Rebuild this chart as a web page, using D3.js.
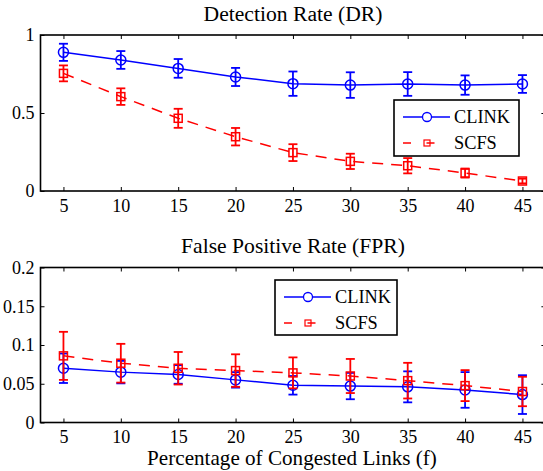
<!doctype html>
<html>
  <head>
    <meta charset="UTF-8"/>
    <title>DR / FPR</title>
    <script src="https://d3js.org/d3.v7.min.js"></script>
    <style>
      body {
          margin: 0;
          padding: 0;
          background: #fff;
      }
    </style>
  </head>
  <body>
    <svg id="chart" width="543" height="471"></svg>
    <script>
      // data
      const links = [5, 10, 15, 20, 25, 30, 35, 40, 45];
      const xTicks = [5, 10, 15, 20, 25, 30, 35, 40, 45];

      const drClink = [0.889, 0.84, 0.786, 0.731, 0.688, 0.679, 0.686, 0.679, 0.686];
      const drClinkErr = [0.055, 0.057, 0.06, 0.058, 0.078, 0.082, 0.076, 0.062, 0.057];
      const drScfs = [0.754, 0.605, 0.466, 0.348, 0.246, 0.19, 0.162, 0.115, 0.064];
      const drScfsErr = [0.051, 0.053, 0.061, 0.056, 0.054, 0.049, 0.049, 0.029, 0.015];
      const drTicks = [0, 0.5, 1];

      const fprClink = [0.070, 0.065, 0.062, 0.055, 0.048, 0.047, 0.046, 0.042, 0.036];
      const fprClinkErr = [0.019, 0.0145, 0.012, 0.01, 0.012, 0.017, 0.02, 0.023, 0.025];
      const fprScfs = [0.086, 0.0765, 0.070, 0.067, 0.064, 0.06, 0.054, 0.0476, 0.040];
      const fprScfsErr = [0.031, 0.025, 0.021, 0.021, 0.02, 0.022, 0.023, 0.02, 0.019];
      const fprTicks = [0, 0.05, 0.1, 0.15, 0.2];

      const seriesNames = ["CLINK", "SCFS"];

      const FONT = "Liberation Serif";
      const svg = d3.select("#chart")
        .attr("font-family", FONT).attr("font-size", 18);
      const x = d3.scaleLinear().domain([3, 47]).range([40.5, 545.4]);

      const BLUE = "#0000ff", RED = "#ff0000";

      // size a text so it takes the width it has in the picture
      function fitSize(str, w) {
        const t = svg.append("text").attr("font-family", FONT).attr("font-size", 18).text(str);
        const cur = t.node().getComputedTextLength();
        t.remove();
        return cur > 0 ? +(18 * w / cur).toFixed(2) : 18;
      }
      const BASE = Math.min(fitSize("0.15", 31.5), 21);

      function label(sel, size) {
        return sel.attr("font-family", FONT).attr("font-size", size || BASE).attr("fill", "#000");
      }

      function panel(opt) {
        const y = d3.scaleLinear().domain(opt.domain).range(opt.range);
        const g = svg.append("g");
        const top = opt.range[1], bot = opt.range[0];

        // ticks inward on all four sides
        g.append("g").attr("transform", `translate(0,${bot})`)
          .call(d3.axisBottom(x).tickValues(xTicks).tickSizeInner(-4).tickSizeOuter(0).tickPadding(8));
        g.append("g").attr("transform", `translate(0,${top})`)
          .call(d3.axisTop(x).tickValues(xTicks).tickSizeInner(-4).tickSizeOuter(0).tickFormat(""));
        g.append("g").attr("transform", `translate(${x.range()[0]},0)`)
          .call(d3.axisLeft(y).tickValues(opt.ticks).tickSizeInner(-4).tickSizeOuter(0).tickPadding(6).tickFormat(d => d));
        g.append("g").attr("transform", `translate(${x.range()[1]},0)`)
          .call(d3.axisRight(y).tickValues(opt.ticks).tickSizeInner(-4).tickSizeOuter(0).tickFormat(""));
        g.selectAll(".domain").remove();
        g.selectAll(".tick line").attr("stroke", "#000").attr("stroke-width", 1);
        g.selectAll("g").attr("font-family", FONT).attr("font-size", BASE);
        g.selectAll(".tick text").call(label);

        g.append("rect")
          .attr("x", x.range()[0]).attr("y", top)
          .attr("width", x.range()[1] - x.range()[0]).attr("height", bot - top)
          .attr("fill", "none").attr("stroke", "#000").attr("stroke-width", 1.6);

        g.append("text").attr("x", 293).attr("y", opt.titleY)
          .attr("text-anchor", "middle").text(opt.title)
          .call(label, fitSize(opt.title, opt.titleW));

        const line = d3.line().x((d, i) => x(links[i])).y(d => y(d));

        // DR: blue drawn over red; FPR: red drawn over blue
        const order = opt.redOnTop ? [0, 1] : [1, 0];
        const all = [
          {vals: opt.clink, err: opt.clinkErr, color: BLUE, dash: null, shape: "circle"},
          {vals: opt.scfs, err: opt.scfsErr, color: RED, dash: "11,8", shape: "square"}
        ];
        order.forEach(k => {
          const s = all[k];
          const sg = g.append("g");
          sg.append("path").datum(s.vals)
            .attr("d", line).attr("fill", "none")
            .attr("stroke", s.color).attr("stroke-width", 1.5)
            .attr("stroke-dasharray", s.dash);
          const eb = sg.selectAll(".eb").data(s.vals).join("g")
            .attr("stroke", s.color).attr("stroke-width", 1.8);
          eb.append("line")
            .attr("x1", (d, i) => x(links[i])).attr("x2", (d, i) => x(links[i]))
            .attr("y1", (d, i) => y(d - s.err[i])).attr("y2", (d, i) => y(d + s.err[i]));
          [-1, 1].forEach(sign => {
            eb.append("line")
              .attr("x1", (d, i) => x(links[i]) - 4.5).attr("x2", (d, i) => x(links[i]) + 4.5)
              .attr("y1", (d, i) => y(d + sign * s.err[i])).attr("y2", (d, i) => y(d + sign * s.err[i]));
          });
          if (s.shape === "circle") {
            sg.selectAll("circle").data(s.vals).join("circle")
              .attr("cx", (d, i) => x(links[i])).attr("cy", d => y(d)).attr("r", 5)
              .attr("fill", "none").attr("stroke", s.color).attr("stroke-width", 1.5);
          } else {
            sg.selectAll("rect").data(s.vals).join("rect")
              .attr("x", (d, i) => x(links[i]) - 4).attr("y", d => y(d) - 4)
              .attr("width", 8).attr("height", 8)
              .attr("fill", "none").attr("stroke", s.color).attr("stroke-width", 1.5);
          }
        });

        // legend
        const L = opt.legend;
        const lg = g.append("g").attr("transform", `translate(${L.x},${L.y})`);
        lg.append("rect").attr("width", L.w).attr("height", L.h)
          .attr("fill", "#fff").attr("stroke", "#000").attr("stroke-width", 1.6);
        const legSize = fitSize("CLINK", 56);
        seriesNames.forEach((name, i) => {
          const s = all[i];
          const ly = i === 0 ? 17 : 43;
          lg.append("line").attr("x1", 9).attr("x2", 56).attr("y1", ly).attr("y2", ly)
            .attr("stroke", s.color).attr("stroke-width", 1.5)
            .attr("stroke-dasharray", i === 1 ? "8,15.5" : null);
          if (i === 0) {
            lg.append("circle").attr("cx", 33).attr("cy", ly).attr("r", 4.5)
              .attr("fill", "#fff").attr("stroke", s.color).attr("stroke-width", 1.3);
          } else {
            lg.append("rect").attr("x", 30).attr("y", ly - 3).attr("width", 6).attr("height", 6)
              .attr("fill", "none").attr("stroke", s.color).attr("stroke-width", 1.2);
          }
          lg.append("text").attr("x", 60).attr("y", ly).attr("dy", "0.35em").text(name).call(label, legSize);
        });
      }

      panel({
        domain: [0, 1], range: [191, 35], ticks: drTicks,
        title: "Detection Rate (DR)", titleY: 21, titleW: 179,
        clink: drClink, clinkErr: drClinkErr, scfs: drScfs, scfsErr: drScfsErr,
        redOnTop: false,
        legend: {x: 394, y: 100, w: 125, h: 56}
      });

      panel({
        domain: [0, 0.2], range: [422.5, 267.5], ticks: fprTicks,
        title: "False Positive Rate (FPR)", titleY: 253, titleW: 224,
        clink: fprClink, clinkErr: fprClinkErr, scfs: fprScfs, scfsErr: fprScfsErr,
        redOnTop: true,
        legend: {x: 275, y: 280, w: 122, h: 55}
      });

      const xLabel = "Percentage of Congested Links (f)";
      svg.append("text").attr("x", 292).attr("y", 465)
        .attr("text-anchor", "middle").text(xLabel).call(label, fitSize(xLabel, 290));
    </script>
  </body>
</html>
